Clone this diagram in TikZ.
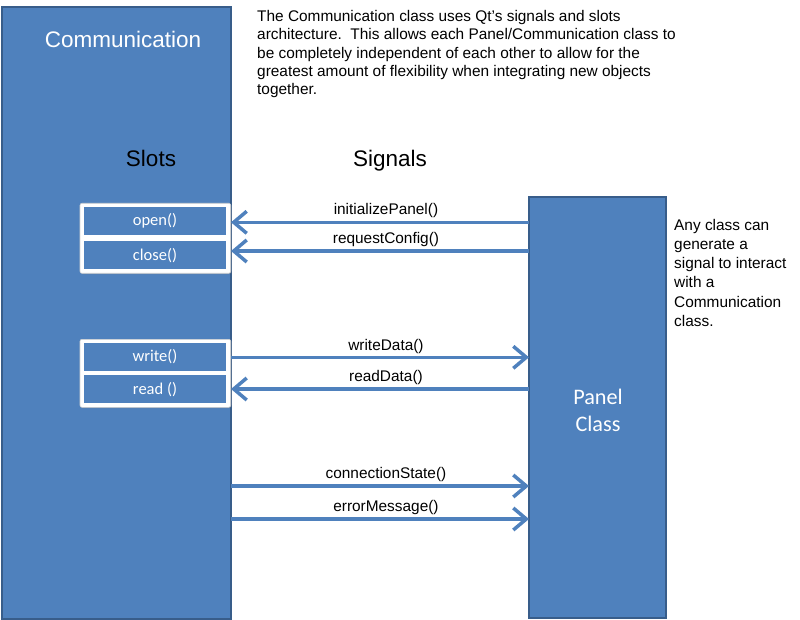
\documentclass[tikz,border=0pt]{standalone}
\usepackage{fontspec}
\setmainfont{Liberation Sans}
\newfontfamily\calfont{Carlito}
\usetikzlibrary{arrows.meta,shadows}
\definecolor{pblue}{HTML}{4F81BD}
\definecolor{pdark}{HTML}{385D8A}
\definecolor{aline}{HTML}{4F81BD}
\begin{document}
\begin{tikzpicture}[x=1pt,y=-1pt,
  bigbox/.style={draw=pdark, line width=1.2pt, fill=pblue, inner sep=0pt, outer sep=0pt,
    anchor=north west, drop shadow={shadow xshift=0.8pt, shadow yshift=-1.2pt, opacity=0.3}},
  groupbox/.style={draw=black!18, line width=0.6pt, fill=white, rounded corners=2pt, inner sep=0pt,
    outer sep=0pt, anchor=north west, minimum width=150.7pt,
    drop shadow={shadow xshift=0.8pt, shadow yshift=-1pt, opacity=0.25}},
  slotbox/.style={fill=pblue, inner sep=0pt, outer sep=0pt, minimum width=142pt, minimum height=28pt,
    text=white, font=\calfont\fontsize{16.5}{19}\selectfont},
  ptext/.style={font=\fontsize{15.4}{18.4}\selectfont, inner sep=0pt, align=left, anchor=north west},
  lbl/.style={font=\fontsize{15.4}{18}\selectfont, inner sep=0pt, anchor=base, yshift=7.3pt},
  head/.style={font=\fontsize{22.5}{27}\selectfont, inner sep=0pt, anchor=base},
  sig/.style={draw=aline, line width=3.5pt, -{Straight Barb[length=13pt,width=22pt]}}
]
\useasboundingbox (0,0) rectangle (800,620);

% main boxes
\node[bigbox, minimum width=229pt, minimum height=612pt] (comm) at (2,7) {};
\node[bigbox, minimum width=137pt, minimum height=421pt] (panel) at (529,197) {};

% titles
\node[head, text=white] (title) at (123,48) {Communication};
\node[head] (slots) at (151,166.7) {Slots};
\node[head] (signals) at (390,166.5) {Signals};
\node[font=\calfont\fontsize{22.2}{26.7}\selectfont, text=white, align=center, inner sep=0pt]
  (ptitle) at (598,410.6) {Panel\\Class};

% slot groups
\node[groupbox, minimum height=70pt] (grpA) at (80,203.3) {};
\node[groupbox, minimum height=68pt] (grpB) at (80,339.3) {};
\node[slotbox] (open) at (155,221.2) {open()};
\node[slotbox] (close) at (155,255.5) {close()};
\node[slotbox] (write) at (155,357) {write()};
\node[slotbox] (read) at (155,389.2) {read ()};

% arrow levels
\coordinate (y1) at (0,222.3);
\coordinate (y2) at (0,251);
\coordinate (y3) at (0,357.3);
\coordinate (y4) at (0,389);
\coordinate (y5) at (0,486);
\coordinate (y6) at (0,519);

\draw[sig] (panel.west |- y1) -- node[lbl, pos=0.48] {initializePanel()} (comm.east |- y1);
\draw[sig] (panel.west |- y2) -- node[lbl, pos=0.48] {requestConfig()} (comm.east |- y2);
\draw[sig] (comm.east |- y3) -- node[lbl, pos=0.52] {writeData()} (panel.west |- y3);
\draw[sig] (panel.west |- y4) -- node[lbl, pos=0.48] {readData()} (comm.east |- y4);
\draw[sig] (comm.east |- y5) -- node[lbl, pos=0.52] {connectionState()} (panel.west |- y5);
\draw[sig] (comm.east |- y6) -- node[lbl, pos=0.52] {errorMessage()} (panel.west |- y6);

% explanatory texts
\node[ptext] (intro) at (257,9.9) {The Communication class uses Qt’s signals and slots\\
architecture.\ \ This allows each Panel/Communication class to\\
be completely independent of each other to allow for the\\
greatest amount of flexibility when integrating new objects\\
together.};
\node[ptext, font=\fontsize{15.4}{19.2}\selectfont] (note) at (674,219) {Any class can\\
generate a\\
signal to interact\\
with a\\
Communication\\
class.};
\end{tikzpicture}
\end{document}
